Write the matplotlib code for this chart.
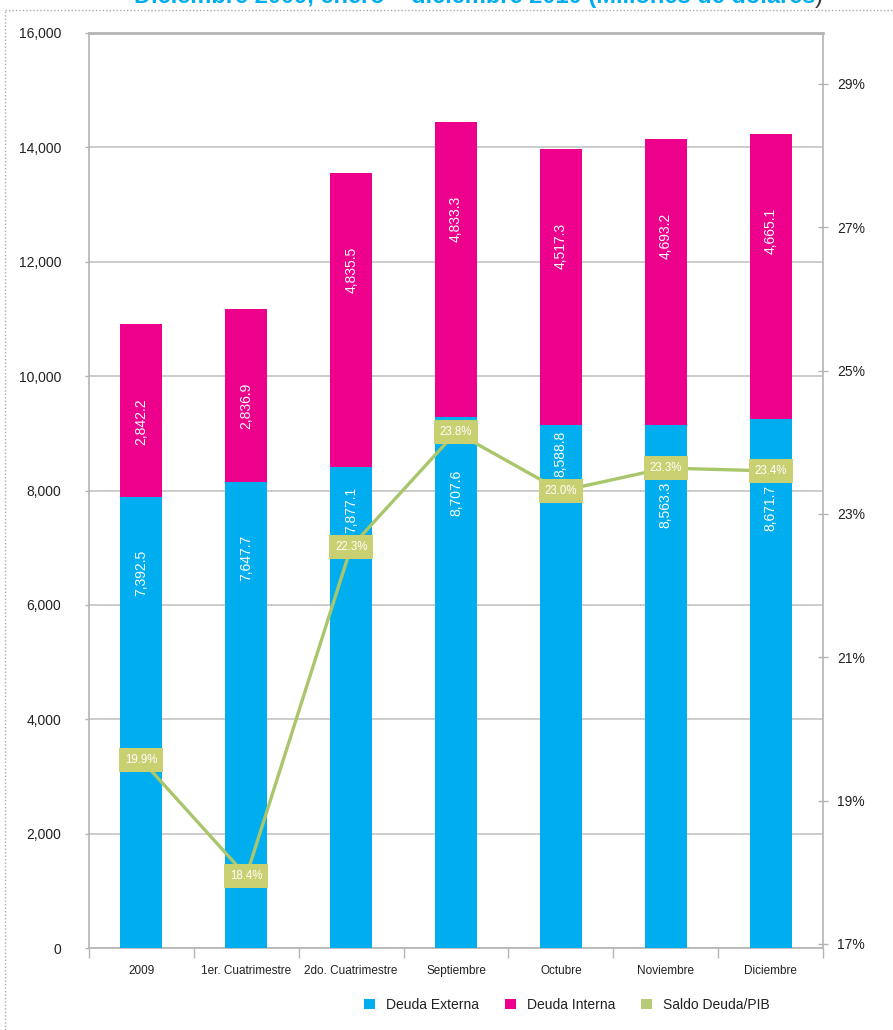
import matplotlib
matplotlib.use("Agg")
import matplotlib.pyplot as plt
from matplotlib.patches import Patch
from matplotlib.lines import Line2D
from matplotlib.ticker import FuncFormatter, FixedLocator

plt.rcParams['font.family'] = ['Liberation Sans', 'DejaVu Sans']

# ---------------- data ----------------
categories = ["2009", "1er. Cuatrimestre", "2do. Cuatrimestre", "Septiembre",
              "Octubre", "Noviembre", "Diciembre"]
# bar heights as drawn in the reference (millones de dólares)
deuda_externa = [7886, 8148, 8411, 9285, 9145, 9145, 9250]
deuda_interna = [3025, 3025, 5140, 5158, 4826, 5001, 4983]
# value labels printed on the bars
externa_labels = ["7,392.5", "7,647.7", "7,877.1", "8,707.6", "8,588.8", "8,563.3", "8,671.7"]
interna_labels = ["2,842.2", "2,836.9", "4,835.5", "4,833.3", "4,517.3", "4,693.2", "4,665.1"]
# saldo deuda / PIB (%), line as drawn and labels printed
saldo_pib = [19.57, 17.95, 22.54, 24.14, 23.32, 23.64, 23.60]
saldo_labels = ["19.9%", "18.4%", "22.3%", "23.8%", "23.0%", "23.3%", "23.4%"]
left_ticks = [0, 2000, 4000, 6000, 8000, 10000, 12000, 14000, 16000]
right_ticks = [17, 19, 21, 23, 25, 27, 29]

title = "Diciembre 2009, enero \u2013 diciembre 2010 (Millones de dólares"

# ---------------- style ----------------
BLUE = "#00aeef"
PINK = "#ec008c"
GREEN = "#a9c66c"
BOX = "#c9d072"
GRID = "#c4c4c4"
SPINE = "#b4b4b4"
TXT = "#222222"

W, H = 893, 1030
fig = plt.figure(figsize=(W / 100, H / 100), dpi=100)
ax = fig.add_axes([89 / W, 1 - 948 / H, (823 - 89) / W, (948 - 33) / H])

x = list(range(len(categories)))
bw = 0.40
ax.bar(x, deuda_externa, width=bw, color=BLUE, zorder=3)
ax.bar(x, deuda_interna, width=bw, bottom=deuda_externa, color=PINK, zorder=3)

ax.set_xlim(-0.5, len(categories) - 0.5)
ax.set_ylim(0, 16000)
ax.yaxis.set_major_locator(FixedLocator(left_ticks))
ax.yaxis.set_major_formatter(FuncFormatter(lambda v, p: f"{int(v):,}"))
ax.grid(axis="y", color=GRID, linewidth=1.2, zorder=0)
ax.set_axisbelow(True)

ax.set_xticks(x)
ax.set_xticklabels(categories, fontsize=8.5, color=TXT)
ax.set_xticks([i - 0.5 for i in range(len(categories) + 1)], minor=True)
ax.tick_params(axis="x", which="major", length=0, pad=12)
ax.tick_params(axis="x", which="minor", length=7, color=SPINE, width=1, direction="out")
ax.tick_params(axis="y", length=3, color=SPINE, width=1, pad=17, labelsize=10,
               labelcolor=TXT)

for s in ["left", "right", "bottom", "top"]:
    ax.spines[s].set_color(SPINE)
    ax.spines[s].set_linewidth(1.2)
ax.spines["top"].set_linewidth(2)

ax2 = ax.twinx()
ax2.set_ylim(16.944, 29.71)
ax2.yaxis.set_major_locator(FixedLocator(right_ticks))
ax2.yaxis.set_major_formatter(FuncFormatter(lambda v, p: f"{int(round(v))}%"))
ax2.tick_params(axis="y", direction="inout", length=7, color=SPINE, width=1, pad=6.5,
                labelsize=10, labelcolor=TXT)
for s in ["left", "right", "bottom", "top"]:
    ax2.spines[s].set_visible(False)

ax2.plot(x, saldo_pib, color=GREEN, linewidth=2.4, zorder=5, solid_joinstyle="miter")
for i in x:
    ax2.text(i, saldo_pib[i], saldo_labels[i], ha="center", va="center",
             fontsize=8.3, color="white", zorder=6,
             bbox=dict(boxstyle="square,pad=0.5", facecolor=BOX, edgecolor="none"))

# bar value labels (pixel-space placement, avoiding the line label boxes)
to_px = ax.transData
inv = ax.transData.inverted()
half_txt = 22      # half length of rotated text, px
half_box = 10      # half height of line label box, px
for i in x:
    top_e = deuda_externa[i]
    top_t = deuda_externa[i] + deuda_interna[i]
    _, py_top = to_px.transform((i, top_e))
    _, py_line = ax2.transData.transform((i, saldo_pib[i]))
    center = py_top - 76          # default: 76 px below segment top
    if abs(center - py_line) < half_txt + half_box + 3:
        above = py_line + half_box + half_txt + 5
        if above + half_txt < py_top - 2:
            center = above
        else:
            center = py_line - half_box - half_txt - 5
    _, y_e = inv.transform((0, center))
    ax.text(i, y_e, externa_labels[i], rotation=90, ha="center", va="center",
            color="white", fontsize=10, zorder=4)
    ax.annotate(interna_labels[i], xy=(i, top_t), xytext=(0, -70),
                textcoords="offset points", rotation=90, ha="center", va="center",
                color="white", fontsize=10, zorder=4)

# legend
handles = [Patch(facecolor=BLUE, edgecolor="none", label="Deuda Externa"),
           Patch(facecolor=PINK, edgecolor="none", label="Deuda Interna"),
           Patch(facecolor="#b5cc74", edgecolor="none", label="Saldo Deuda/PIB")]
fig.legend(handles=handles, loc="center", bbox_to_anchor=(567 / W, 1 - 1005 / H),
           ncol=3, frameon=False, fontsize=10, handlelength=0.75, handleheight=0.8,
           handletextpad=0.8, columnspacing=1.9, labelcolor=TXT)

# title (cut at top edge like the reference)
fig.text(815 / W, 1 - 3 / H, title, ha="right", va="baseline",
         fontsize=17, fontweight="bold", color=BLUE)
fig.text(815 / W, 1 - 3 / H, ")", ha="left", va="baseline",
         fontsize=17, color="#333333")

# dotted border
fig.add_artist(Line2D([5 / W, 1], [1 - 10 / H, 1 - 10 / H], transform=fig.transFigure,
                      color="#aaaaaa", linestyle=(0, (1, 1.5)), linewidth=1))
fig.add_artist(Line2D([5 / W, 5 / W], [0, 1 - 10 / H], transform=fig.transFigure,
                      color="#aaaaaa", linestyle=(0, (1, 1.5)), linewidth=1))

fig.savefig("out.png", dpi=100)
